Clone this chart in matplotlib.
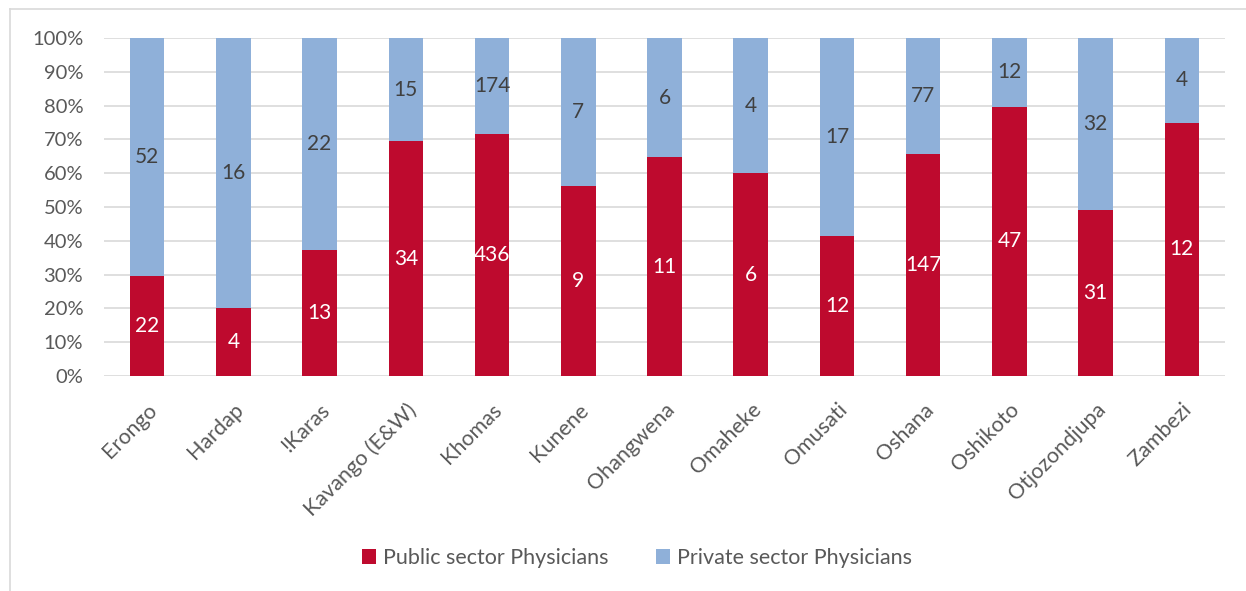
import matplotlib
matplotlib.use("Agg")
import matplotlib.pyplot as plt
from matplotlib.lines import Line2D
import numpy as np

regions = ["Erongo", "Hardap", "!Karas", "Kavango (E&W)", "Khomas", "Kunene",
           "Ohangwena", "Omaheke", "Omusati", "Oshana", "Oshikoto",
           "Otjozondjupa", "Zambezi"]
public = [22, 4, 13, 34, 436, 9, 11, 6, 12, 147, 47, 31, 12]
private = [52, 16, 22, 15, 174, 7, 6, 4, 17, 77, 12, 32, 4]
yticks = [0, 10, 20, 30, 40, 50, 60, 70, 80, 90, 100]

RED = "#BE0A2E"
BLUE = "#8FB0D9"
GRAY = "#595959"

plt.rcParams['font.family'] = ['Lato', 'DejaVu Sans']

fig = plt.figure(figsize=(12.46, 5.91), dpi=100)
ax = fig.add_axes([104/1246, 1-376/591, (1225-104)/1246, (376-38)/591])

pub = np.array(public, float)
pri = np.array(private, float)
tot = pub + pri
pub_pct = pub / tot * 100
pri_pct = pri / tot * 100
x = np.arange(len(regions))

ax.bar(x, pub_pct, width=0.4, color=RED, label="Public sector Physicians", zorder=3)
ax.bar(x, pri_pct, width=0.4, bottom=pub_pct, color=BLUE, label="Private sector Physicians", zorder=3)

for i in range(len(regions)):
    ax.text(x[i], pub_pct[i]/2, str(public[i]), ha="center", va="center",
            color="white", fontsize=15, zorder=4)
    ax.text(x[i], pub_pct[i] + pri_pct[i]/2, str(private[i]), ha="center", va="center",
            color="#404040", fontsize=15, zorder=4)

ax.set_xlim(-0.5, len(regions) - 0.5)
ax.set_ylim(0, 100)
ax.set_yticks(yticks)
ax.set_yticklabels([f"{v}%" for v in yticks], color=GRAY, fontsize=14.5)
ax.set_xticks(x)
ax.set_xticklabels(regions, rotation=45, ha="right", rotation_mode="anchor",
                   color=GRAY, fontsize=15.5)
ax.tick_params(axis="both", length=0)
ax.tick_params(axis="y", pad=15)
ax.tick_params(axis="x", pad=17)
ax.grid(axis="y", color="#D9D9D9", linewidth=1.2, zorder=0)
for s in ax.spines.values():
    s.set_visible(False)

ax.legend(loc="center", bbox_to_anchor=((637-104)/1121, 1-(558-38)/338), ncol=2, frameon=False,
          fontsize=15.5, labelcolor=GRAY, handlelength=0.65, handleheight=0.65,
          columnspacing=2.2, handletextpad=0.35)

# chart frame
fig.add_artist(Line2D([10/1246, 10/1246], [0, 1-9/591], transform=fig.transFigure,
                      color="#D9D9D9", linewidth=1.2))
fig.add_artist(Line2D([10/1246, 1], [1-9/591, 1-9/591], transform=fig.transFigure,
                      color="#D9D9D9", linewidth=1.2))

fig.savefig("out.png", dpi=100)
